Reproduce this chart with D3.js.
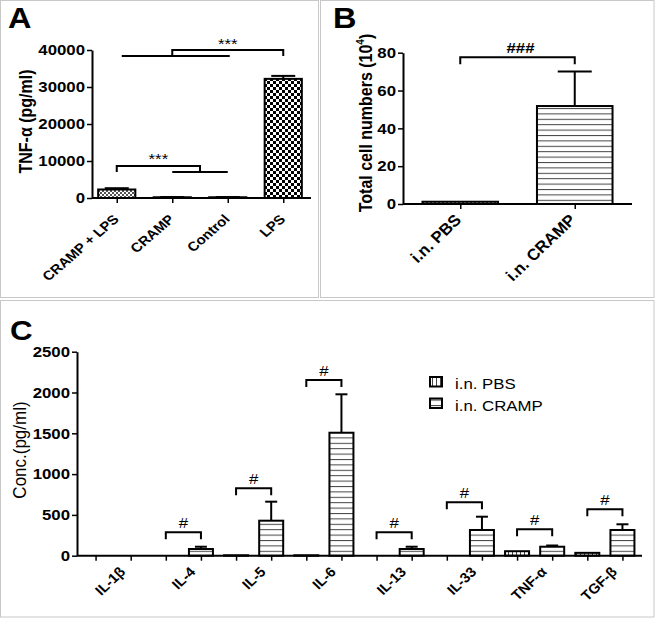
<!DOCTYPE html>
<html><head><meta charset="utf-8">
<script src="https://cdn.jsdelivr.net/npm/d3@7"></script>
<style>
body{margin:0;background:#fff}
svg{display:block}
text{font-family:"Liberation Sans",Arial,sans-serif;fill:#000}
</style>
</head><body>
<svg id="chart" width="655" height="618"></svg>
<script>
// ---------- Panel A data ----------
const groupsA = ["CRAMP + LPS", "CRAMP", "Control", "LPS"];
const valuesA = [2300, 200, 200, 32200];
const errTopA = [2650, 260, 260, 33000];
const ticksA = [0, 10000, 20000, 30000, 40000];
const sigLabelA = ["***", "***"];
const bracketTopA = [40000, 8650];   // bracket heights (data units)
const bracketBaseA = [38400, 7000];  // group-line heights (data units)

// ---------- Panel B data ----------
const groupsB = ["i.n. PBS", "i.n. CRAMP"];
const valuesB = [1.2, 51.8];
const errTopB = [1.5, 70];
const ticksB = [0, 20, 40, 60, 80];
const bracketTopB = 77.6;
const bracketBaseB = 73.9;

// ---------- Panel C data ----------
const cytokines = ["IL-1β", "IL-4", "IL-5", "IL-6", "IL-13", "IL-33", "TNF-α", "TGF-β"];
const seriesC = ["i.n. PBS", "i.n. CRAMP"];
const pbsC = [0, 0, 5, 5, 0, 0, 55, 35];
const pbsErrC = [0, 0, 5, 5, 0, 0, 60, 45];
const crampC = [0, 82, 429, 1507, 82, 315, 110, 315];
const crampErrC = [0, 110, 662, 1978, 110, 478, 125, 385];
const sigC = ["", "#", "#", "#", "#", "#", "#", "#"];
const bracketC = [0, 287, 826, 2153, 287, 654, 323, 569];
const ticksC = [0, 500, 1000, 1500, 2000, 2500];

// ---------- helpers ----------
const svg = d3.select("#chart");
const SX = 1.12;
function label(g, x, y, s, o = {}) {
  const sx = o.sx ?? SX;
  const outer = g.append("g").attr("transform", `translate(${x},${y})` + (sx !== 1 ? ` scale(${sx},1)` : ""));
  const t = outer.append("text")
    .attr("text-anchor", o.anchor || "start")
    .attr("font-size", o.size || 15)
    .attr("font-weight", o.weight || "bold")
    .text(s);
  if (o.rot) t.attr("transform", `rotate(${o.rot})`);
  return t;
}
function styleYAxis(g, size) {
  g.select(".domain").attr("stroke-width", 2);
  g.selectAll(".tick line").attr("stroke-width", 1.5);
  g.selectAll(".tick text")
    .attr("font-size", size).attr("font-weight", "bold")
    .attr("font-family", '"Liberation Sans",Arial,sans-serif')
    .attr("transform", `scale(${SX},1)`)
    .attr("x", -7 / SX);
}
function styleXAxis(g) {
  g.select(".domain").remove();
  g.selectAll(".tick line").attr("stroke-width", 1.5);
  g.selectAll(".tick text").remove();
}

// ---------- patterns ----------
const defs = svg.append("defs");
function pat(id, w, h) {
  const p = defs.append("pattern").attr("id", id).attr("patternUnits", "userSpaceOnUse")
    .attr("width", w).attr("height", h);
  p.append("rect").attr("width", w).attr("height", h).attr("fill", "#fff");
  return p;
}
let p = pat("chkFine", 4, 4);
p.append("rect").attr("width", 2).attr("height", 2).attr("fill", "#555");
p.append("rect").attr("x", 2).attr("y", 2).attr("width", 2).attr("height", 2).attr("fill", "#555");
p = pat("chkCoarse", 6, 6);
p.append("rect").attr("width", 3).attr("height", 3).attr("fill", "#000");
p.append("rect").attr("x", 3).attr("y", 3).attr("width", 3).attr("height", 3).attr("fill", "#000");
p = pat("hStripe", 10, 5.4);
p.append("line").attr("x1", 0).attr("x2", 10).attr("y1", 0.5).attr("y2", 0.5).attr("stroke", "#444").attr("stroke-width", 1);
p = pat("vStripe", 4, 10);
p.append("line").attr("x1", 0.5).attr("x2", 0.5).attr("y1", 0).attr("y2", 10).attr("stroke", "#444").attr("stroke-width", 1);

// ---------- panel frames ----------
const frame = svg.append("g").attr("fill", "none").attr("stroke", "#c8c8c8").attr("stroke-width", 1);
frame.append("rect").attr("x", 0.5).attr("y", 0.5).attr("width", 318).attr("height", 297);
frame.append("rect").attr("x", 320.5).attr("y", 0.5).attr("width", 333.5).attr("height", 297);
frame.append("rect").attr("x", 0.5).attr("y", 300.5).attr("width", 653.5).attr("height", 316.5);

// ================= Panel A =================
{
  const g = svg.append("g");
  const axX = 92, x1 = 311;
  const xA = d3.scalePoint().domain(groupsA).range([89, x1]).padding(0.5);
  const yA = d3.scaleLinear().domain([0, 40000]).range([198, 50]);
  const bw = xA.step() * 0.67;
  const fills = ["url(#chkFine)", "#fff", "#fff", "url(#chkCoarse)"];

  g.selectAll("rect.bar").data(groupsA).join("rect")
    .attr("x", d => xA(d) - bw / 2).attr("width", bw)
    .attr("y", (d, i) => yA(valuesA[i])).attr("height", (d, i) => yA(0) - yA(valuesA[i]))
    .attr("fill", (d, i) => fills[i]).attr("stroke", "#000").attr("stroke-width", 2);
  const eb = g.append("g").attr("stroke", "#000").attr("stroke-width", 2);
  groupsA.forEach((d, i) => {
    eb.append("line").attr("x1", xA(d)).attr("x2", xA(d)).attr("y1", yA(valuesA[i])).attr("y2", yA(errTopA[i]));
    eb.append("line").attr("x1", xA(d) - 12).attr("x2", xA(d) + 12).attr("y1", yA(errTopA[i])).attr("y2", yA(errTopA[i]));
  });
  const gy = g.append("g").attr("transform", `translate(${axX},0)`)
    .call(d3.axisLeft(yA).tickValues(ticksA).tickFormat(d3.format("d")).tickSize(5).tickSizeOuter(0).tickPadding(1));
  styleYAxis(gy, 15);
  const gx = g.append("g").attr("transform", `translate(0,${yA(0)})`)
    .call(d3.axisBottom(xA).tickSize(5).tickSizeOuter(0));
  styleXAxis(gx);
  g.append("line").attr("x1", axX).attr("x2", x1).attr("y1", yA(0)).attr("y2", yA(0)).attr("stroke", "#000").attr("stroke-width", 2);
  groupsA.forEach(d => label(g, xA(d) + 3, yA(0) + 22, d, { rot: -45, anchor: "end", size: 13, sx: 1.15 }));
  const sg = g.append("g").attr("fill", "none").attr("stroke", "#000").attr("stroke-width", 2);
  sg.append("line").attr("x1", xA(groupsA[0]) + 5).attr("x2", xA(groupsA[2]) + 2)
    .attr("y1", yA(bracketBaseA[0])).attr("y2", yA(bracketBaseA[0]));
  sg.append("path").attr("d", `M${xA(groupsA[1])},${yA(bracketBaseA[0])}V${yA(bracketTopA[0])}H${xA(groupsA[3])}V${yA(bracketBaseA[0])}`);
  const midB = (xA(groupsA[1]) + xA(groupsA[2])) / 2;
  sg.append("path").attr("d", `M${xA(groupsA[0])},${yA(bracketBaseA[1])}V${yA(bracketTopA[1])}H${midB}V${yA(bracketBaseA[1])}`);
  sg.append("line").attr("x1", xA(groupsA[1])).attr("x2", xA(groupsA[2]))
    .attr("y1", yA(bracketBaseA[1])).attr("y2", yA(bracketBaseA[1]));
  label(g, (xA(groupsA[1]) + xA(groupsA[3])) / 2, yA(bracketTopA[0]) - 1, sigLabelA[0], { anchor: "middle", size: 15, weight: "normal" });
  label(g, (xA(groupsA[0]) + midB) / 2, yA(bracketTopA[1]) - 2, sigLabelA[1], { anchor: "middle", size: 15, weight: "normal" });
  label(g, 32, 121.5, "TNF-α (pg/ml)", { rot: -90, anchor: "middle", size: 16 });
  label(g, 8, 28, "A", { size: 29 });
}

// ================= Panel B =================
{
  const g = svg.append("g");
  const axX = 403, x1 = 632;
  const xB = d3.scalePoint().domain(groupsB).range([axX, x1]).padding(0.5);
  const yB = d3.scaleLinear().domain([0, 80]).range([204, 52.7]);
  const bw = xB.step() * 0.66;
  const fills = ["url(#chkFine)", "url(#hStripe)"];
  g.selectAll("rect.bar").data(groupsB).join("rect")
    .attr("x", d => xB(d) - bw / 2).attr("width", bw)
    .attr("y", (d, i) => yB(valuesB[i])).attr("height", (d, i) => yB(0) - yB(valuesB[i]))
    .attr("fill", (d, i) => fills[i]).attr("stroke", "#000").attr("stroke-width", 2);
  const eb = g.append("g").attr("stroke", "#000").attr("stroke-width", 2);
  groupsB.forEach((d, i) => {
    if (errTopB[i] - valuesB[i] < 1) return;
    eb.append("line").attr("x1", xB(d)).attr("x2", xB(d)).attr("y1", yB(valuesB[i])).attr("y2", yB(errTopB[i]));
    eb.append("line").attr("x1", xB(d) - 17).attr("x2", xB(d) + 17).attr("y1", yB(errTopB[i])).attr("y2", yB(errTopB[i]));
  });
  const gy = g.append("g").attr("transform", `translate(${axX},0)`)
    .call(d3.axisLeft(yB).tickValues(ticksB).tickSize(5).tickSizeOuter(0).tickPadding(1));
  styleYAxis(gy, 15);
  const gx = g.append("g").attr("transform", `translate(0,${yB(0)})`)
    .call(d3.axisBottom(xB).tickSize(5).tickSizeOuter(0));
  styleXAxis(gx);
  g.append("line").attr("x1", axX).attr("x2", x1).attr("y1", yB(0)).attr("y2", yB(0)).attr("stroke", "#000").attr("stroke-width", 2);
  groupsB.forEach(d => label(g, xB(d) + 2, yB(0) + 17, d, { rot: -45, anchor: "end", size: 16, sx: 1.05 }));
  g.append("path").attr("fill", "none").attr("stroke", "#000").attr("stroke-width", 2)
    .attr("d", `M${xB(groupsB[0])},${yB(bracketBaseB)}V${yB(bracketTopB)}H${xB(groupsB[1])}V${yB(bracketBaseB)}`);
  label(g, (xB(groupsB[0]) + xB(groupsB[1])) / 2 + 3, yB(bracketTopB) - 4.5, "###", { anchor: "middle", size: 15, weight: "bold" });
  const tg = g.append("g").attr("transform", `translate(372,123) scale(${SX},1)`);
  const t = tg.append("text").attr("transform", "rotate(-90)")
    .attr("text-anchor", "middle").attr("font-size", 16).attr("font-weight", "bold");
  t.append("tspan").text("Total cell numbers (10");
  t.append("tspan").attr("font-size", 10).attr("dy", -7).text("4");
  t.append("tspan").attr("dy", 7).text(")");
  label(g, 333, 28, "B", { size: 29 });
}

// ================= Panel C =================
{
  const g = svg.append("g");
  const axX = 77, x1 = 642;
  const slots = cytokines.flatMap(c => seriesC.map(s => c + "|" + s));
  const xSlot = d3.scalePoint().domain(slots).range([78, 640]).padding(0.5);
  const xGroup = d3.scaleBand().domain(cytokines).range([78, 640]);
  const yC = d3.scaleLinear().domain([0, 2500]).range([555.7, 351.7]);
  const bw = 24;
  const rows = [];
  cytokines.forEach((c, i) => {
    rows.push({ c, s: 0, v: pbsC[i], e: pbsErrC[i], fill: "url(#vStripe)" });
    rows.push({ c, s: 1, v: crampC[i], e: crampErrC[i], fill: "url(#hStripe)" });
  });
  const shown = rows.filter(r => r.v > 0);
  g.selectAll("rect.bar").data(shown).join("rect")
    .attr("x", r => xSlot(r.c + "|" + seriesC[r.s]) - bw / 2).attr("width", bw)
    .attr("y", r => yC(r.v)).attr("height", r => yC(0) - yC(r.v))
    .attr("fill", r => r.fill).attr("stroke", "#000").attr("stroke-width", 2);
  const eb = g.append("g").attr("stroke", "#000").attr("stroke-width", 2);
  shown.filter(r => yC(r.v) - yC(r.e) > 1).forEach(r => {
    const cx = xSlot(r.c + "|" + seriesC[r.s]);
    eb.append("line").attr("x1", cx).attr("x2", cx).attr("y1", yC(r.v)).attr("y2", yC(r.e));
    eb.append("line").attr("x1", cx - 6).attr("x2", cx + 6).attr("y1", yC(r.e)).attr("y2", yC(r.e));
  });
  const gy = g.append("g").attr("transform", `translate(${axX},0)`)
    .call(d3.axisLeft(yC).tickValues(ticksC).tickFormat(d3.format("d")).tickSize(5).tickSizeOuter(0).tickPadding(1));
  styleYAxis(gy, 15);
  const gx = g.append("g").attr("transform", `translate(0,${yC(0)})`)
    .call(d3.axisBottom(xSlot).tickSize(5).tickSizeOuter(0));
  styleXAxis(gx);
  g.append("line").attr("x1", axX).attr("x2", x1).attr("y1", yC(0)).attr("y2", yC(0)).attr("stroke", "#000").attr("stroke-width", 2);
  cytokines.forEach(c => label(g, xGroup(c) + xGroup.bandwidth() / 2 + 13, yC(0) + 17, c, { rot: -45, anchor: "end", size: 14, sx: 1.05 }));
  const bg = g.append("g").attr("fill", "none").attr("stroke", "#000").attr("stroke-width", 2);
  cytokines.forEach((c, i) => {
    if (!sigC[i]) return;
    const a = xSlot(c + "|" + seriesC[0]), b = xSlot(c + "|" + seriesC[1]), yt = yC(bracketC[i]);
    bg.append("path").attr("d", `M${a},${yt + 7}V${yt}H${b}V${yt + 7}`);
    label(g, (a + b) / 2, yt - 4, sigC[i], { anchor: "middle", size: 15, weight: "normal" });
  });
  const lg = g.append("g");
  const lf = ["url(#vStripe)", "url(#hStripe)"];
  seriesC.forEach((s, i) => {
    lg.append("rect").attr("x", 430).attr("y", 377 + i * 21.5).attr("width", 12).attr("height", 9.5)
      .attr("fill", lf[i]).attr("stroke", "#000").attr("stroke-width", 2);
    label(lg, 455, 389 + i * 21.5, s, { size: 15, weight: "normal" });
  });
  label(g, 26, 450, "Conc.(pg/ml)", { rot: -90, anchor: "middle", size: 17, weight: "normal", sx: 1.05 });
  label(g, 10, 340, "C", { size: 28 });
}
</script>
</body></html>
